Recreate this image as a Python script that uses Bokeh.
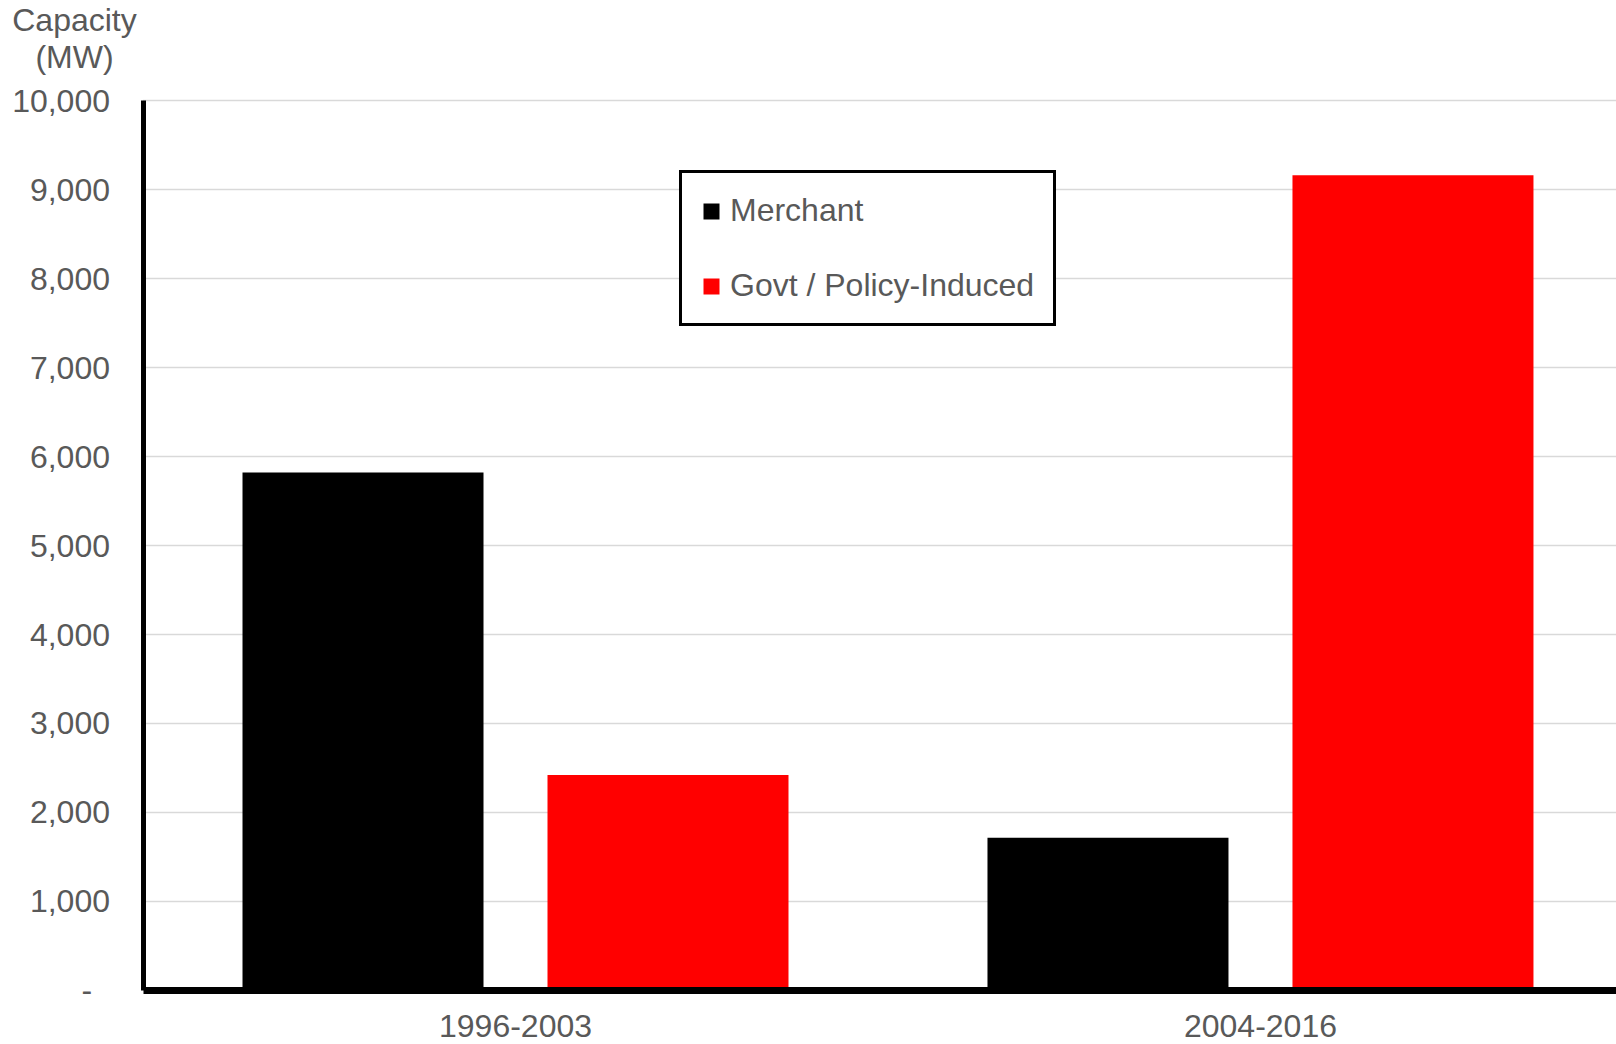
from bokeh.plotting import figure
from bokeh.models import (Range1d, FixedTicker, NumeralTickFormatter, Legend,
                          LegendItem, Label, ColumnDataSource)
from bokeh.transform import dodge
from bokeh.embed import file_html
from bokeh.resources import INLINE

# ---- data ----
periods = ["1996-2003", "2004-2016"]
merchant = [5820, 1715]
govt = [2420, 9160]
series_names = ["Merchant", "Govt / Policy-Induced"]
series_colors = ["#000000", "#ff0000"]
y_ticks = [0, 1000, 2000, 3000, 4000, 5000, 6000, 7000, 8000, 9000, 10000]
y_title = ["Capacity", "(MW)"]

FONT = "Liberation Sans"
GREY = "#595959"

X0, X1 = -0.5, 1.4779          # visible part of the category axis
src = ColumnDataSource(dict(x=list(range(len(periods))), merchant=merchant, govt=govt))

# the frame covers the whole canvas; axes are pinned inside it
p = figure(width=1616, height=1044, output_backend="svg", toolbar_location=None,
           x_range=Range1d(-0.6913, X1), y_range=Range1d(-607, 11124),
           min_border_left=0, min_border_top=0, min_border_bottom=0,
           min_border_right=0, title=None)
p.outline_line_color = None
p.background_fill_color = "white"
p.border_fill_color = "white"
p.xgrid.visible = False
p.ygrid.visible = False

# horizontal gridlines at the value ticks
p.segment(x0=X0, x1=X1, y0=y_ticks[1:], y1=y_ticks[1:],
          line_color="#d9d9d9", line_width=1.5)

bar_w = 0.3235
r1 = p.vbar(x=dodge("x", -0.2047), top="merchant", width=bar_w, source=src,
            fill_color=series_colors[0], line_color=None)
r2 = p.vbar(x=dodge("x", 0.2047), top="govt", width=bar_w, source=src,
            fill_color=series_colors[1], line_color=None)

# axes
p.xaxis.ticker = FixedTicker(ticks=list(range(len(periods))))
p.xaxis.major_label_overrides = {i: lab for i, lab in enumerate(periods)}
p.xaxis.fixed_location = 0
p.xaxis.bounds = (X0, X1)
p.yaxis.ticker = FixedTicker(ticks=y_ticks)
p.yaxis.fixed_location = X0
p.yaxis.bounds = (y_ticks[0], y_ticks[-1])
p.yaxis.formatter = NumeralTickFormatter(format="0,0")
p.yaxis.major_label_overrides = {0: "-\u00a0\u00a0"}
for ax in (p.xaxis, p.yaxis):
    ax.axis_line_color = "black"
    ax.major_tick_line_color = None
    ax.minor_tick_line_color = None
    ax.major_tick_out = 0
    ax.major_tick_in = 0
    ax.major_label_text_font = FONT
    ax.major_label_text_font_size = "32px"
    ax.major_label_text_color = GREY
p.xaxis.axis_line_width = 7
p.yaxis.axis_line_width = 5
p.xaxis.major_label_standoff = 25
p.yaxis.major_label_standoff = 33

# value-axis title at top-left, two centred lines
for txt, yv in zip(y_title, [10900, 10485]):
    p.add_layout(Label(x=-0.592, y=yv, text=txt, text_align="center",
                       text_baseline="alphabetic", text_font=FONT,
                       text_font_size="32px", text_color=GREY))

legend = Legend(items=[LegendItem(label=series_names[0], renderers=[r1]),
                       LegendItem(label=series_names[1], renderers=[r2])],
                location=(679, 718))
legend.label_text_font = FONT
legend.label_text_font_size = "32px"
legend.label_text_color = GREY
legend.glyph_width = 20
legend.glyph_height = 20
legend.label_standoff = 9
legend.padding = 19
legend.spacing = 38
legend.label_height = 36
legend.border_line_color = "black"
legend.border_line_alpha = 1
legend.border_line_width = 3
legend.background_fill_color = "white"
legend.background_fill_alpha = 1
p.add_layout(legend)

open("out.html", "w").write(file_html(p, INLINE))
